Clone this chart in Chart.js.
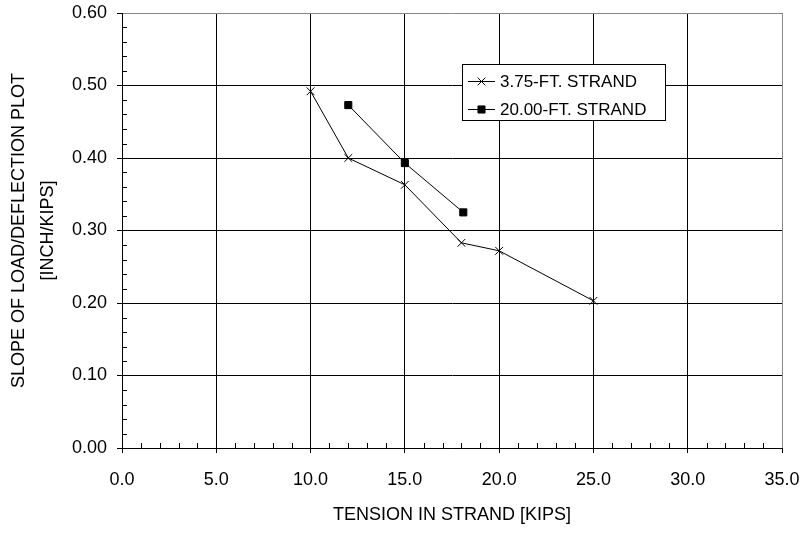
<!DOCTYPE html>
<html>
<head>
<meta charset="utf-8">
<script src="https://cdn.jsdelivr.net/npm/chart.js@4"></script>
<style>
  html, body { margin: 0; padding: 0; background: #fff; }
  #wrap { width: 804px; height: 534px; }
</style>
</head>
<body>
<div id="wrap"><canvas id="slopeChart" width="804" height="534"></canvas></div>
<script>
// Data
const shortX = [10, 12, 15, 18, 20, 25];
const shortY = [0.492, 0.400, 0.363, 0.283, 0.272, 0.203];
const longX = [12, 15, 18.1];
const longY = [0.473, 0.393, 0.325];
const seriesLabels = ["3.75-FT. STRAND", "20.00-FT. STRAND"];
const xTitle = "TENSION IN STRAND [KIPS]";
const yTitle = ["SLOPE OF LOAD/DEFLECTION PLOT", "[INCH/KIPS]"];

const FONT = "'Liberation Sans', Arial, sans-serif";

function toPoints(xs, ys) {
  return xs.map((x, i) => ({ x: x, y: ys[i] }));
}

// minor ticks pointing into the plot
const minorTicks = {
  id: "minorTicks",
  afterDraw(chart) {
    const { ctx, chartArea, scales } = chart;
    ctx.save();
    ctx.strokeStyle = "#000";
    ctx.lineWidth = 1;
    ctx.beginPath();
    for (let v = 0; v <= 35; v += 1) {
      if (v % 5 === 0) continue;
      const px = Math.round(scales.x.getPixelForValue(v)) + 0.5;
      ctx.moveTo(px, chartArea.bottom);
      ctx.lineTo(px, chartArea.bottom - 5);
    }
    for (let i = 0; i <= 30; i++) {
      if (i % 5 === 0) continue;
      const py = Math.round(scales.y.getPixelForValue(i * 0.02)) + 0.5;
      ctx.moveTo(chartArea.left, py);
      ctx.lineTo(chartArea.left + 5, py);
    }
    ctx.stroke();
    ctx.restore();
  }
};

// boxed legend inside the plot
const boxLegend = {
  id: "boxLegend",
  afterDraw(chart) {
    const ctx = chart.ctx;
    const box = { x: 462.5, y: 64.5, w: 203, h: 56 };
    ctx.save();
    ctx.fillStyle = "#fff";
    ctx.fillRect(box.x, box.y, box.w, box.h);
    ctx.strokeStyle = "#000";
    ctx.lineWidth = 1;
    ctx.strokeRect(box.x, box.y, box.w, box.h);
    const rows = [81, 109];
    chart.data.datasets.forEach((ds, i) => {
      const y = rows[i] + 0.5;
      ctx.beginPath();
      ctx.strokeStyle = "#000";
      ctx.lineWidth = 1;
      ctx.moveTo(468, y);
      ctx.lineTo(495, y);
      ctx.stroke();
      Chart.helpers.drawPoint(ctx, {
        pointStyle: ds.pointStyle,
        radius: ds.pointRadius,
        borderWidth: 1
      }, 481.5, y);
      ctx.fillStyle = "#000";
      ctx.font = "17px " + FONT;
      ctx.textBaseline = "middle";
      ctx.textAlign = "left";
      ctx.fillText(ds.label, 500, rows[i] + 1);
    });
    ctx.restore();
  }
};

const ctx = document.getElementById("slopeChart").getContext("2d");
const chart = new Chart(ctx, {
  type: "scatter",
  data: {
    datasets: [
      {
        label: seriesLabels[0],
        data: toPoints(shortX, shortY),
        showLine: true,
        borderColor: "#000",
        borderWidth: 1,
        pointStyle: "crossRot",
        pointRadius: 5.5,
        pointBorderColor: "#000",
        pointBorderWidth: 1,
        pointBackgroundColor: "#000"
      },
      {
        label: seriesLabels[1],
        data: toPoints(longX, longY),
        showLine: true,
        borderColor: "#000",
        borderWidth: 1,
        pointStyle: "rect",
        pointRadius: 5,
        pointBorderColor: "#000",
        pointBorderWidth: 1,
        pointBackgroundColor: "#000"
      }
    ]
  },
  options: {
    responsive: false,
    animation: false,
    layout: { padding: { left: 0, right: 22, top: 13, bottom: 0 } },
    plugins: {
      legend: { display: false },
      tooltip: { enabled: false }
    },
    scales: {
      x: {
        type: "linear",
        min: 0,
        max: 35,
        afterFit(scale) {
          scale.height = 86;
          scale.paddingLeft = 0;
          scale.paddingRight = 0;
        },
        ticks: {
          stepSize: 5,
          color: "#000",
          padding: 16,
          font: { family: FONT, size: 18 },
          callback: (v) => v.toFixed(1)
        },
        grid: {
          color: (c) => (c.tick && c.tick.value === 35 ? "#888" : "#000"),
          tickColor: "#000",
          tickLength: 5,
          lineWidth: 1
        },
        border: { color: "#000", width: 1 },
        title: {
          display: true,
          text: xTitle,
          color: "#000",
          font: { family: FONT, size: 18 },
          padding: { top: 0, bottom: 8 }
        }
      },
      y: {
        type: "linear",
        min: 0,
        max: 0.6,
        afterFit(scale) {
          scale.width = 122;
          scale.paddingTop = 0;
          scale.paddingBottom = 0;
        },
        ticks: {
          stepSize: 0.1,
          color: "#000",
          padding: 10,
          font: { family: FONT, size: 18 },
          callback: (v) => v.toFixed(2)
        },
        grid: {
          color: (c) => (c.tick && Math.abs(c.tick.value - 0.6) < 1e-6 ? "#888" : "#000"),
          tickColor: "#000",
          tickLength: 5,
          lineWidth: 1
        },
        border: { color: "#000", width: 1 },
        title: {
          display: true,
          text: yTitle,
          color: "#000",
          font: { family: FONT, size: 18, lineHeight: 1.6 },
          padding: { top: 5, bottom: 0 }
        }
      }
    }
  },
  plugins: [minorTicks, boxLegend]
});
</script>
</body>
</html>
